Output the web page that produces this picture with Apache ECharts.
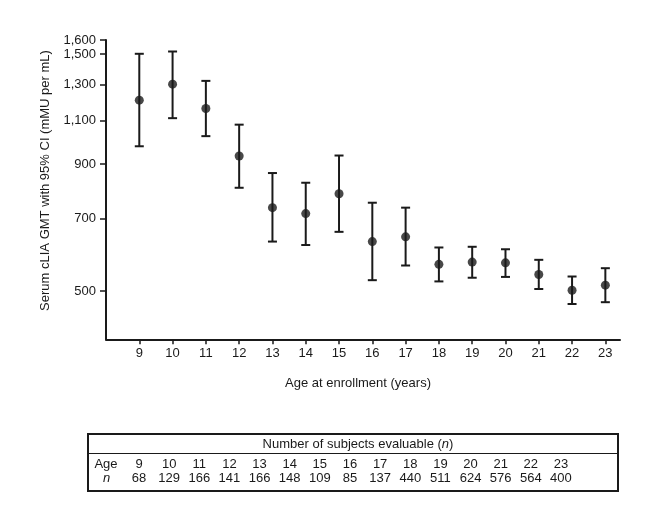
<!DOCTYPE html>
<html><head><meta charset="utf-8">
<script src="https://cdn.jsdelivr.net/npm/echarts@6/dist/echarts.min.js"></script>
<style>html,body{margin:0;padding:0;background:#fff}#c{width:650px;height:515px}</style>
</head><body><div id="c"></div>
<script>
// Data
const ages = [9, 10, 11, 12, 13, 14, 15, 16, 17, 18, 19, 20, 21, 22, 23];
const gmt = [1211, 1304, 1165, 935, 736, 716, 785, 629, 643, 566, 572, 570, 540, 502, 514];
const ciLow = [978, 1114, 1025, 807, 629, 619, 658, 526, 563, 523, 532, 534, 505, 471, 475];
const ciHigh = [1501, 1517, 1324, 1081, 864, 826, 937, 753, 736, 612, 614, 607, 578, 535, 556];
const yTicks = [500, 700, 900, 1100, 1300, 1500, 1600];
const nSubjects = [68, 129, 166, 141, 166, 148, 109, 85, 137, 440, 511, 624, 576, 564, 400];

const INK = '#1a1a1a';
const FONT = '"Liberation Sans", Arial, Helvetica, sans-serif';
const ln = Math.log;

const chart = echarts.init(document.getElementById('c'), null, {renderer: 'canvas'});

const errData = ages.map((a, i) => [a, ln(ciLow[i]), ln(ciHigh[i])]);
const ptData = ages.map((a, i) => [a, ln(gmt[i])]);

// Table graphics
const tableEls = [];
const tX0 = 88, tX1 = 618, tY0 = 434, tY1 = 491, tMid = 453.5;
tableEls.push({type: 'rect', shape: {x: tX0, y: tY0, width: tX1 - tX0, height: tY1 - tY0},
  style: {fill: 'none', stroke: INK, lineWidth: 2}});
tableEls.push({type: 'line', shape: {x1: tX0, y1: tMid, x2: tX1, y2: tMid},
  style: {stroke: INK, lineWidth: 1}});
tableEls.push({type: 'text', x: 358, y: 444, style: {
  text: '{a|Number of subjects evaluable (}{i|n}{a|)}',
  rich: {a: {fontSize: 13, fontFamily: FONT, fill: INK}, i: {fontSize: 13, fontFamily: FONT, fontStyle: 'italic', fill: INK}},
  align: 'center', verticalAlign: 'middle'}});
tableEls.push({type: 'text', x: 106, y: 464.5, style: {text: 'Age', fontSize: 13, fontFamily: FONT, fill: INK, align: 'center', verticalAlign: 'middle'}});
tableEls.push({type: 'text', x: 106.5, y: 478.5, style: {text: 'n', fontSize: 13, fontStyle: 'italic', fontFamily: FONT, fill: INK, align: 'center', verticalAlign: 'middle'}});
ages.forEach((a, i) => {
  const cx = 139 + i * 30.14;
  tableEls.push({type: 'text', x: cx, y: 464.5, style: {text: String(a), fontSize: 13, fontFamily: FONT, fill: INK, align: 'center', verticalAlign: 'middle'}});
  tableEls.push({type: 'text', x: cx, y: 478.5, style: {text: String(nSubjects[i]), fontSize: 13, fontFamily: FONT, fill: INK, align: 'center', verticalAlign: 'middle'}});
});

const option = {
  animation: false,
  backgroundColor: '#fff',
  grid: {left: 106, right: 30, top: 40, bottom: 175.7, containLabel: false},
  xAxis: {
    type: 'value', min: 8, max: 23.44,
    axisLine: {show: true, onZero: false, lineStyle: {color: INK, width: 2}},
    axisTick: {show: true, customValues: ages, length: 5, lineStyle: {color: INK, width: 1.5}},
    axisLabel: {customValues: ages, color: INK, fontSize: 13, fontFamily: FONT, margin: 8},
    splitLine: {show: false}
  },
  yAxis: {
    type: 'value', min: ln(400), max: ln(1600),
    axisLine: {show: true, onZero: false, lineStyle: {color: INK, width: 2}},
    axisTick: {show: true, customValues: yTicks.map(ln), length: 6, lineStyle: {color: INK, width: 1.5}},
    axisLabel: {customValues: yTicks.map(ln), color: INK, fontSize: 13, fontFamily: FONT, margin: 10,
      formatter: v => Math.round(Math.exp(v)).toLocaleString('en-US')},
    splitLine: {show: false}
  },
  series: [
    {
      type: 'custom',
      data: errData,
      encode: {x: 0, y: [1, 2]},
      renderItem: function (params, api) {
        const x = api.value(0);
        const lo = api.coord([x, api.value(1)]);
        const hi = api.coord([x, api.value(2)]);
        const w = 4.5;
        const st = {stroke: INK, lineWidth: 2};
        return {type: 'group', children: [
          {type: 'line', shape: {x1: lo[0], y1: lo[1], x2: hi[0], y2: hi[1]}, style: st},
          {type: 'line', shape: {x1: lo[0] - w, y1: lo[1], x2: lo[0] + w, y2: lo[1]}, style: st},
          {type: 'line', shape: {x1: hi[0] - w, y1: hi[1], x2: hi[0] + w, y2: hi[1]}, style: st}
        ]};
      },
      z: 2
    },
    {
      type: 'scatter',
      data: ptData,
      symbol: 'circle', symbolSize: 9,
      itemStyle: {color: INK},
      z: 3
    }
  ],
  graphic: [
    {type: 'text', x: 45, y: 180.5, rotation: Math.PI / 2,
      style: {text: 'Serum cLIA GMT with 95% CI (mMU per mL)', fontSize: 13, fontFamily: FONT, fill: INK, align: 'center', verticalAlign: 'middle'}},
    {type: 'text', x: 358, y: 383,
      style: {text: 'Age at enrollment (years)', fontSize: 13, fontFamily: FONT, fill: INK, align: 'center', verticalAlign: 'middle'}}
  ].concat(tableEls)
};
chart.setOption(option);
</script>
</body></html>
